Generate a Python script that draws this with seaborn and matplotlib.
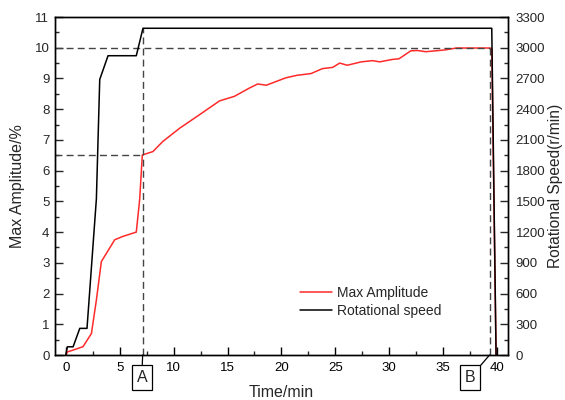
import matplotlib
matplotlib.use("Agg")
import matplotlib.pyplot as plt
import seaborn as sns
import pandas as pd
from matplotlib.ticker import MultipleLocator

# ---- data ----
amp_time = [0, 0.15, 0.68, 1.6, 2.38, 2.84, 3.3, 4.54, 5.3, 6.54, 6.85, 7.1, 8.08, 9.0,
            10.56, 12.4, 14.26, 15.65, 17.04, 17.8, 18.6, 20.4, 21.4, 22.75, 23.8, 24.75,
            25.4, 26.1, 27.4, 28.45, 29.1, 30.3, 30.9, 32.0, 32.6, 33.4, 35.2, 36.2,
            39.3, 39.5, 39.9]
amp_vals = [0, 0.1, 0.16, 0.27, 0.7, 1.79, 3.04, 3.75, 3.86, 4.0, 5.05, 6.51, 6.62, 6.95,
            7.38, 7.82, 8.27, 8.42, 8.69, 8.82, 8.78, 9.02, 9.1, 9.16, 9.32, 9.36,
            9.5, 9.43, 9.54, 9.58, 9.54, 9.62, 9.64, 9.9, 9.91, 9.87, 9.93, 9.99,
            9.99, 9.98, 0]
spd_time = [0, 0.15, 0.68, 1.3, 1.97, 2.84, 3.15, 3.92, 6.54, 7.16, 39.5, 39.9]
spd_vals = [0, 80, 80, 260, 260, 1525, 2690, 2922, 2922, 3190, 3190, 0]

point_A_time = 7.13
point_A_amp = 6.5
point_B_time = 39.3
steady_amp = 10.0
labels_AB = ["A", "B"]

amp_df = pd.DataFrame({"t": amp_time, "v": amp_vals})
spd_df = pd.DataFrame({"t": spd_time, "v": spd_vals})

sns.set_theme(style="white")
plt.rcParams["font.family"] = ["Liberation Sans", "DejaVu Sans"]

fig = plt.figure(figsize=(5.65, 4.0), dpi=100)
ax = fig.add_axes([0.0973, 0.1125, 0.8017, 0.845])
ax2 = ax.twinx()

sns.lineplot(data=amp_df, x="t", y="v", sort=False, ax=ax, color="#ff2a2a", lw=1.1,
             label="Max Amplitude", legend=False)
sns.lineplot(data=spd_df, x="t", y="v", sort=False, ax=ax2, color="black", lw=1.1,
             label="Rotational speed", legend=False)

ax.set_xlim(-1, 41)
ax.set_ylim(0, 11)
ax2.set_ylim(0, 3300)

dash_kw = dict(color="#444444", lw=1.0, ls=(0, (5, 3)))
ax.plot([-1, point_B_time], [steady_amp, steady_amp], **dash_kw)
ax.plot([-1, point_A_time], [point_A_amp, point_A_amp], **dash_kw)
ax.plot([point_A_time, point_A_time], [0, 3190 / 300], **dash_kw)
ax.plot([point_B_time, point_B_time], [0, steady_amp], **dash_kw)

ax.xaxis.set_major_locator(MultipleLocator(5))
ax.xaxis.set_minor_locator(MultipleLocator(2.5))
ax.yaxis.set_major_locator(MultipleLocator(1))
ax.yaxis.set_minor_locator(MultipleLocator(0.5))
ax2.yaxis.set_major_locator(MultipleLocator(300))
ax2.yaxis.set_minor_locator(MultipleLocator(150))

for a in (ax, ax2):
    for s in a.spines.values():
        s.set_color("black")
        s.set_linewidth(1.0)
ax.tick_params(axis="x", which="major", direction="in", length=6, width=1, labelsize=9.5, pad=5, colors="black", bottom=True)
ax.tick_params(axis="x", which="minor", direction="in", length=3, width=1, bottom=True)
ax.tick_params(axis="y", which="major", direction="in", length=6, width=1, labelsize=9.5, pad=4, left=True)
ax.tick_params(axis="y", which="minor", direction="in", length=3, width=1, left=True)
ax2.tick_params(axis="y", which="major", direction="in", length=6, width=1, labelsize=9.5, pad=5.5, right=True)
ax2.tick_params(axis="y", which="minor", direction="in", length=3, width=1, right=True)

ax.set_xlabel("Time/min", fontsize=11.5, labelpad=8)
ax.set_ylabel("Max Amplitude/%", fontsize=11.5, labelpad=7)
ax2.set_ylabel("Rotational Speed(r/min)", fontsize=11.2, labelpad=2)

# A / B callouts
for lab, tx, bx in [(labels_AB[0], point_A_time, 7.05), (labels_AB[1], point_B_time, 37.5)]:
    ax.annotate(lab, xy=(tx, 0), xycoords="data",
                xytext=(bx, -0.73), textcoords="data",
                ha="center", va="center", fontsize=11.5, annotation_clip=False,
                bbox=dict(boxstyle="square,pad=0.3", fc="white", ec="black", lw=0.9),
                arrowprops=dict(arrowstyle="-", color="black", lw=0.9, shrinkA=0, shrinkB=0))

h1, l1 = ax.get_legend_handles_labels()
h2, l2 = ax2.get_legend_handles_labels()
ax.legend(h1 + h2, l1 + l2, loc="lower left", bbox_to_anchor=(0.513, 0.072),
          frameon=False, fontsize=10, handlelength=2.3, handletextpad=0.4, labelspacing=0.3)

fig.savefig("out.png", dpi=100)
